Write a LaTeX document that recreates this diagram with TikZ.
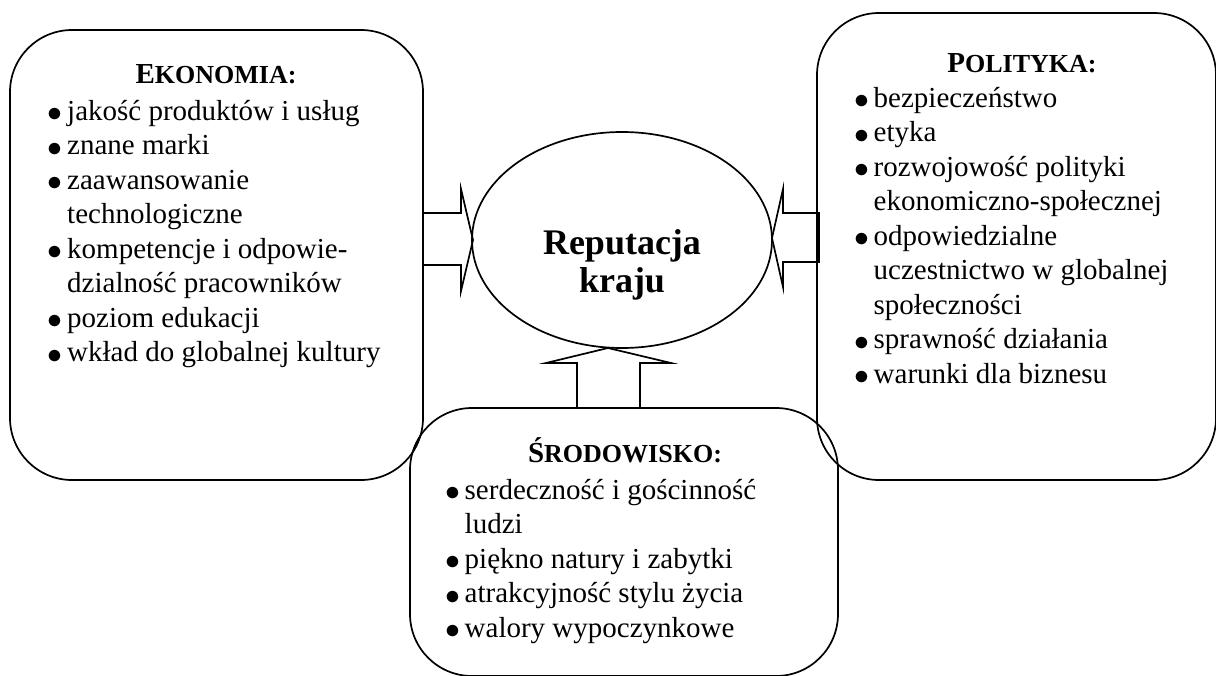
\documentclass[tikz,border=0pt]{standalone}
\usepackage{graphicx}
\usepackage{fontspec}
\setmainfont{Liberation Serif}
\usetikzlibrary{shapes.geometric}

\newcommand{\bodyfont}{\fontsize{29}{34.5}\selectfont}
\newcommand{\headfont}{\fontsize{29}{34.5}\selectfont\bfseries}
\newcommand{\smcap}[2]{#1{\fontsize{26}{26}\selectfont #2}}
\newcommand{\blt}{\makebox[13pt][c]{\raisebox{-0.06em}{\scalebox{1.2}{$\bullet$}}}}

\tikzset{
  panel/.style={draw, line width=1.7pt, rounded corners=62pt},
  heading/.style={anchor=base, inner sep=0pt, font=\headfont},
  itemlist/.style={anchor=base west, inner sep=0pt, font=\bodyfont},
  blockarrow/.style={draw, line width=1.7pt, line join=miter},
}

\begin{document}
\begin{tikzpicture}[x=1pt,y=-1pt]
  \useasboundingbox (0,0) rectangle (1216,675);

  \draw[panel] (10,30) rectangle (423,480);
  \draw[panel] (817,13) rectangle (1216,480);
  \draw[panel] (410,408) rectangle (838,676);

  \node[draw, line width=1.7pt, ellipse, minimum width=300pt, minimum height=216pt] (rep) at (622,240) {};
  \node[font=\fontsize{36}{38}\selectfont\bfseries, align=center, inner sep=0pt] (reptxt) at (622,265) {Reputacja\\kraju};

  \draw[blockarrow] (423,213) -- (461,213) -- (461,189) -- (473,240) -- (461,291) -- (461,265) -- (423,265);
  \draw[blockarrow] (819,213) -- (783,213) -- (783,189) -- (772,238) -- (783,287) -- (783,262) -- (819,262) -- cycle;
  \draw[blockarrow] (577,408) -- (577,363) -- (546,363) -- (608,348) -- (671,363) -- (640,363) -- (640,408);

  \node[heading] (ekohead) at (216,83) {\smcap{E}{KONOMIA:}};
  \node[heading] (polhead) at (1022,72) {\smcap{P}{OLITYKA:}};
  \node[heading] (srohead) at (625,462) {\smcap{Ś}{RODOWISKO:}};

  \node[itemlist] (ekolist) at (48.5,120) {\begin{tabular}[t]{@{}l@{\hspace{5.5pt}}l@{}}
    \blt & jakość produktów i usług\\
    \blt & znane marki\\
    \blt & zaawansowanie\\
         & technologiczne\\
    \blt & kompetencje i odpowie-\\
         & dzialność pracowników\\
    \blt & poziom edukacji\\
    \blt & wkład do globalnej kultury
  \end{tabular}};

  \node[itemlist] (pollist) at (855,107) {\begin{tabular}[t]{@{}l@{\hspace{5.5pt}}l@{}}
    \blt & bezpieczeństwo\\
    \blt & etyka\\
    \blt & rozwojowość polityki\\
         & ekonomiczno-społecznej\\
    \blt & odpowiedzialne\\
         & uczestnictwo w globalnej\\
         & społeczności\\
    \blt & sprawność działania\\
    \blt & warunki dla biznesu
  \end{tabular}};

  \node[itemlist] (srolist) at (446,499) {\begin{tabular}[t]{@{}l@{\hspace{5.5pt}}l@{}}
    \blt & serdeczność i gościnność\\
         & ludzi\\
    \blt & piękno natury i zabytki\\
    \blt & atrakcyjność stylu życia\\
    \blt & walory wypoczynkowe
  \end{tabular}};
\end{tikzpicture}
\end{document}
